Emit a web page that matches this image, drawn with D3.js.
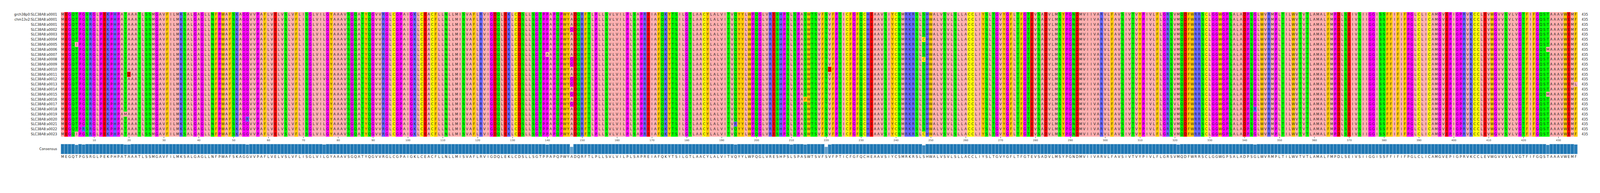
<!DOCTYPE html>
<html>
<head>
<meta charset="utf-8">
<script src="https://cdn.jsdelivr.net/npm/d3@7"></script>
<style>
  html, body { margin: 0; padding: 0; background: #fff; overflow: hidden; }
  svg { display: block; width: 100vw; height: auto; }
  text { font-family: "DejaVu Sans", sans-serif; }
</style>
</head>
<body>
<svg id="msa" viewBox="0 0 4624 495" preserveAspectRatio="xMinYMin meet"></svg>
<script>
// sequence names, top to bottom
const names = ["grch38p0:SLC38A8:a0001", "chm13v2:SLC38A8:a0001"]
  .concat(d3.range(1, 24).map(i => "SLC38A8:a" + String(i).padStart(4, "0")));

// consensus sequence in blocks of 48
const consensusSeq = [
  "MEGQTPGSRGLPEKPHPATAAATLSSMGAVFILMKSALGAGLLNFPWA",
  "FSKAGGVVPAFLVELVSLVFLISGLVILGYAAAVSGQATYQGVVRGLC",
  "GPAIGKLCEACFLLNLLMISVAFLRVIGDQLEKLCDSLLSGTPPAPQP",
  "WYADQRFTLPLLSVLVILPLSAPREIAFQKYTSILGTLAACYLALVIT",
  "VQYYLWPQGLVRESHPSLSPASWTSVFSVFPTICFGFQCHEAAVSIYC",
  "SMRKRSLSHWALVSVLSLLACCLIYSLTGVYGFLTFGTEVSADVLMSY",
  "PGNDMVIIVARVLFAVSIVTVYPIVLFLGRSVMQDFWRRSCLGGWGPS",
  "ALADPSGLWVRMPLTILWVTVTLAMALFMPDLSEIVSIIGGISSFFIF",
  "IFPGLCLICAMGVEPIGPRVKCCLEVWGVVSVLVGTFIFGQSTAAAVWEMF"
].join("");

// differences from the consensus: [row, position, residue]
const variants = [
  [6, 5, "I"], [24, 5, "I"], [23, 7, "R"], [20, 19, "M"], [12, 20, "D"],
  [21, 54, "R"], [13, 76, "V"], [8, 140, "A"],
  [3, 147, "G"], [9, 147, "G"], [10, 147, "G"], [13, 147, "G"], [14, 147, "G"], [16, 147, "G"], [18, 147, "G"],
  [22, 194, "R"], [15, 210, "V"], [17, 214, "F"],
  [3, 220, "T"], [4, 220, "T"], [9, 220, "T"], [13, 220, "T"], [14, 220, "T"], [16, 220, "T"], [18, 220, "T"],
  [11, 221, "D"],
  [5, 248, "C"], [9, 248, "C"], [24, 248, "C"],
  [18, 321, "L"], [19, 343, "R"], [7, 427, "M"], [16, 427, "M"], [14, 435, "L"]
];

const tickPositions = d3.range(10, 436, 10);
const seqLength = 435;

// Zappo colours
const zappo = {
  A: "#ffafaf", I: "#ffafaf", L: "#ffafaf", M: "#ffafaf", V: "#ffafaf",
  F: "#ffc800", W: "#ffc800", Y: "#ffc800",
  K: "#6464ff", R: "#6464ff", H: "#6464ff",
  D: "#ff0000", E: "#ff0000",
  S: "#00ff00", T: "#00ff00", N: "#00ff00", Q: "#00ff00",
  P: "#ff00ff", G: "#ff00ff",
  C: "#ffff00"
};

// build the rows
const rows = names.map(() => consensusSeq.split(""));
variants.forEach(([r, p, aa]) => { rows[r][p - 1] = aa; });

const cells = [];
rows.forEach((seq, r) => seq.forEach((aa, i) => cells.push({ r, pos: i + 1, aa })));

const positions = d3.range(1, seqLength + 1);
const conservation = positions.map(p => {
  const col = rows.map(s => s[p - 1]);
  const counts = d3.rollup(col, v => v.length, d => d);
  const top = d3.greatest(counts, d => d[1]);
  return { pos: p, aa: top[0], frac: top[1] / rows.length };
});

const svg = d3.select("#msa");

const x = d3.scaleBand().domain(positions).range([176, 4559]).padding(0);
const y = d3.scaleBand().domain(d3.range(names.length)).range([35, 395.5]).padding(0);

// cells
svg.append("g")
  .selectAll("rect")
  .data(cells)
  .join("rect")
  .attr("x", d => x(d.pos))
  .attr("y", d => y(d.r))
  .attr("width", x.bandwidth() + 0.3)
  .attr("height", y.bandwidth() + 0.3)
  .attr("fill", d => zappo[d.aa] || "#ffffff");

svg.append("g")
  .selectAll("text")
  .data(cells)
  .join("text")
  .attr("x", d => x(d.pos) + x.bandwidth() / 2)
  .attr("y", d => y(d.r) + y.bandwidth() / 2)
  .attr("text-anchor", "middle")
  .attr("dominant-baseline", "central")
  .style("font-size", "10px")
  .style("fill", "#222")
  .text(d => d.aa);

// row names
svg.append("g")
  .selectAll("text")
  .data(names)
  .join("text")
  .attr("x", 165)
  .attr("y", (d, i) => y(i) + y.bandwidth() / 2)
  .attr("text-anchor", "end")
  .attr("dominant-baseline", "central")
  .style("font-size", "9.5px")
  .style("fill", "#222")
  .text(d => d);

// sequence length on the right
svg.append("g")
  .selectAll("text")
  .data(names)
  .join("text")
  .attr("x", 4571)
  .attr("y", (d, i) => y(i) + y.bandwidth() / 2)
  .attr("dominant-baseline", "central")
  .style("font-size", "9.5px")
  .style("fill", "#222")
  .text(seqLength);

// position axis
const xPos = d3.scalePoint().domain(positions).range([x(1) + x.bandwidth() / 2, x(seqLength) + x.bandwidth() / 2]);
const axis = svg.append("g")
  .attr("transform", "translate(0,396)")
  .call(d3.axisBottom(xPos).tickValues(tickPositions).tickSize(4).tickPadding(3));
axis.select(".domain").remove();
axis.selectAll("line").attr("stroke", "#333");
axis.selectAll("text").style("font-size", "7.5px").style("fill", "#333").style("font-family", "DejaVu Sans");

// consensus bars
const barTop = 417, barBottom = 446;
const h = d3.scaleLinear().domain([0, 1]).range([0, barBottom - barTop]);
const barColor = d3.scaleLinear().domain([0.6, 1]).range(["#7fb2d8", "#1f77b4"]).clamp(true);

svg.append("g")
  .selectAll("rect")
  .data(conservation)
  .join("rect")
  .attr("x", d => x(d.pos))
  .attr("y", d => barBottom - h(d.frac))
  .attr("width", x.bandwidth())
  .attr("height", d => h(d.frac))
  .attr("fill", d => barColor(d.frac))
  .attr("stroke", "#d6e6f2")
  .attr("stroke-width", 0.6);

svg.append("text")
  .attr("x", 165)
  .attr("y", 431)
  .attr("text-anchor", "end")
  .attr("dominant-baseline", "central")
  .style("font-size", "9.5px")
  .style("fill", "#222")
  .text("Consensus");

svg.append("g")
  .selectAll("text")
  .data(conservation)
  .join("text")
  .attr("x", d => x(d.pos) + x.bandwidth() / 2)
  .attr("y", 454)
  .attr("text-anchor", "middle")
  .attr("dominant-baseline", "central")
  .style("font-size", "10px")
  .style("fill", "#222")
  .text(d => d.aa);
</script>
</body>
</html>
